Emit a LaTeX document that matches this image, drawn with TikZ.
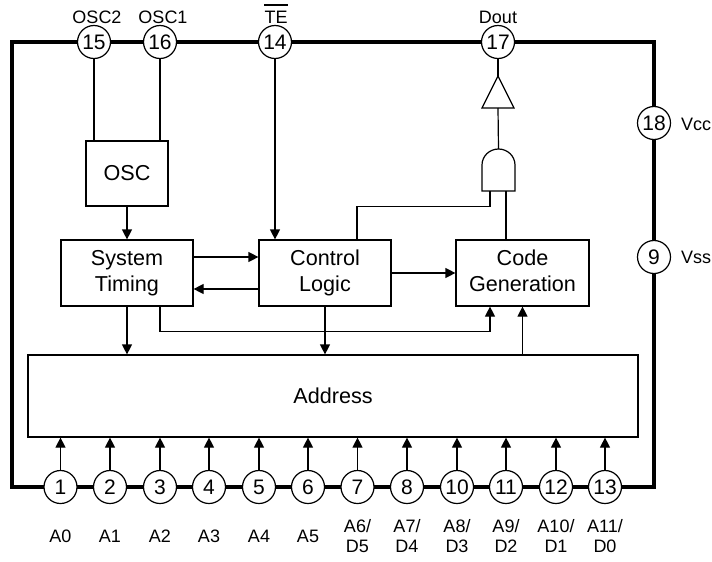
\documentclass[tikz,border=0pt]{standalone}
\usepackage{fontspec}
\setmainfont{Liberation Sans}
\usetikzlibrary{arrows.meta}
\begin{document}
\begin{tikzpicture}[x=1pt,y=-1pt,
  thin line/.style={line width=1.2pt},
  arr/.style={thin line,-{Triangle[length=10pt,width=10pt]}},
  pin/.style={circle,draw,line width=1.2pt,fill=white,minimum size=33pt,inner sep=0pt,font=\fontsize{21}{24}\selectfont},
  blk/.style={draw,line width=1.2pt,align=center,inner sep=0pt,font=\fontsize{21.6}{26}\selectfont},
  lbl/.style={font=\fontsize{18}{19.5}\selectfont,align=center,inner sep=0pt},
]
\useasboundingbox (0,0) rectangle (712,562);
% package outline
\draw[line width=3.8pt] (12,42) rectangle (654,487);
% top pins
\node[pin] (p15) at (94,42) {15};
\node[pin] (p16) at (160,42) {16};
\node[pin] (p14) at (275,42) {14};
\node[pin] (p17) at (498,42) {17};
\node[lbl] (l15) at (97,17.5) {OSC2};
\node[lbl] (l16) at (163,17.5) {OSC1};
\node[lbl] (l14) at (276,17.5) {TE};
\draw[line width=1.3pt] ([yshift=6pt]l14.north west) -- ([yshift=6pt]l14.north east);
\node[lbl] (l17) at (498,17.5) {Dout};
% right pins
\node[pin] (p18) at (654,123) {18};
\node[pin] (p9) at (654,257) {9};
\node[lbl,anchor=west] (l18) at (681,124) {Vcc};
\node[lbl,anchor=west] (l9) at (681,257) {Vss};
% bottom pins
\foreach \n/\x/\t in {1/60.5/A0,2/110/A1,3/160/A2,4/209/A3,5/259/A4,6/308/A5,
  7/357.5/{A6/\\D5},8/407/{A7/\\D4},10/457/{A8/\\D3},11/506/{A9/\\D2},12/556/{A10/\\D1},13/605/{A11/\\D0}}{
  \node[pin] (p\n) at (\x,487) {\n};
  \node[lbl] (l\n) at (\x,536) {\t};
}
% blocks
\node[blk,minimum width=82pt,minimum height=65pt] (osc) at (127,173.5) {OSC};
\node[blk,minimum width=132pt,minimum height=66pt] (st) at (127,273) {System\\Timing};
\node[blk,minimum width=132pt,minimum height=66pt] (cl) at (325,273) {Control\\Logic};
\node[blk,minimum width=133pt,minimum height=66pt] (cg) at (522.5,273) {Code\\Generation\vphantom{g}};
\node[blk,minimum width=610pt,minimum height=82pt] (addr) at (333,396) {Address};
% output gates
\draw[thin line] (482,191) -- (482,165) arc[start angle=180,end angle=360,x radius=16.5,y radius=16] -- (515,191) -- cycle;
\coordinate (andinL) at (490,191);
\coordinate (andinR) at (506,191);
\coordinate (andout) at (498.5,149);
\draw[thin line] (482,108) -- (514,108) -- (498,76) -- cycle;
\coordinate (bufin) at (498,108);
\coordinate (bufout) at (498,76);
% connectors
\draw[thin line] (p15) -- (p15 |- osc.north);
\draw[thin line] (p16) -- (p16 |- osc.north);
\draw[arr] (osc.south) -- (st.north);
\draw[arr] (p14) -- (p14 |- cl.north);
\draw[arr] ([yshift=16pt]st.east) -- ([yshift=16pt]cl.west);
\draw[arr] ([yshift=-16pt]cl.west) -- ([yshift=-16pt]st.east);
\draw[arr] (cl.east) -- (cg.west);
\draw[arr] (st.south) -- (st.south |- addr.north);
\draw[arr] ([xshift=33pt]st.south) -- ++(0,25) -| ([xshift=-32.5pt]cg.south);
\draw[arr] (cl.south) -- (cl.south |- addr.north);
\draw[arr] (cg.south |- addr.north) -- (cg.south);
\draw[thin line] ([xshift=32pt]cl.north) -- ++(0,-33) -| (andinL);
\draw[thin line] (andinR) -- (andinR |- cg.north);
\draw[thin line] (andout) -- (bufin);
\draw[thin line] (bufout) -- (p17);
\foreach \n in {1,2,3,4,5,6,7,8,10,11,12,13}{
  \draw[arr] (p\n) -- (p\n |- addr.south);
}
\end{tikzpicture}
\end{document}
